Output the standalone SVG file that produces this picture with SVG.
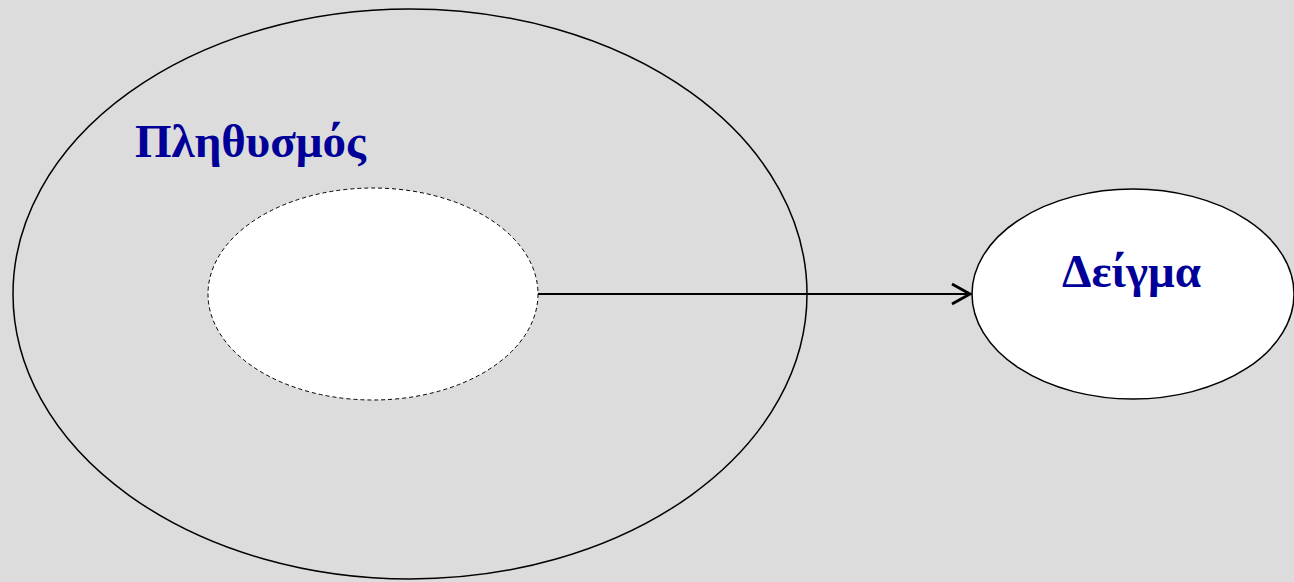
<svg xmlns="http://www.w3.org/2000/svg" width="1294" height="582" viewBox="0 0 1294 582">
<style>
.lbl{font-family:"Liberation Serif","Times New Roman",serif;font-weight:bold;fill:#000099}
.edge{fill:none;stroke:#000;stroke-width:2.2}
</style>
<defs>
<marker id="arr" markerWidth="26" markerHeight="28" refX="21" refY="14" orient="auto" markerUnits="userSpaceOnUse">
<path d="M3,4 L21,14 L3,24" fill="none" stroke="#000" stroke-width="2.8"/>
</marker>
</defs>
<rect width="1294" height="582" fill="#dcdcdc"/>
<g id="population">
<ellipse cx="410" cy="294" rx="397" ry="285" fill="none" stroke="#000" stroke-width="1.5"/>
<text class="lbl" x="135" y="157" font-size="47">Πληθυσμός</text>
</g>
<g id="subset">
<ellipse cx="373" cy="294" rx="165" ry="106" fill="#fff" stroke="#000" stroke-width="1" stroke-dasharray="4,3"/>
</g>
<g id="sample">
<ellipse cx="1133" cy="294" rx="161" ry="105" fill="#fff" stroke="#000" stroke-width="1.5"/>
<text class="lbl" x="1062" y="287" font-size="47">Δείγμα</text>
</g>
<g id="connectors">
<line class="edge" x1="538" y1="294" x2="970" y2="294" marker-end="url(#arr)"/>
</g>
</svg>
